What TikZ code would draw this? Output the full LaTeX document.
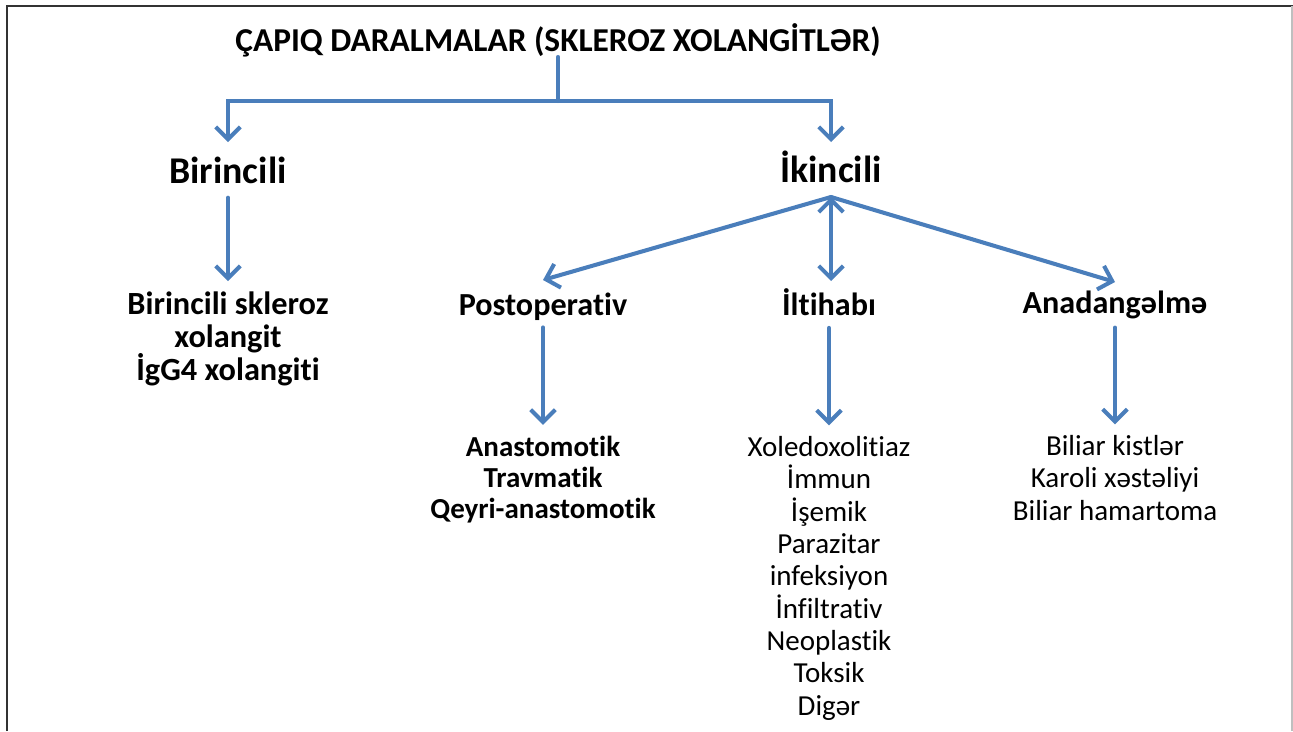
\documentclass[tikz,border=0pt]{standalone}
\usepackage{fontspec}
\setmainfont{Carlito}[Ligatures=NoCommon]
\usetikzlibrary{arrows.meta}
\definecolor{linkblue}{RGB}{74,126,187}

\begin{document}
\begin{tikzpicture}[x=0.02cm, y=-0.02cm,
  every node/.style={inner sep=0pt, anchor=base},
  title/.style={font=\bfseries\fontsize{19}{22}\selectfont},
  head/.style={font=\bfseries\fontsize{21.5}{24}\selectfont},
  sub/.style={font=\bfseries\fontsize{18.3}{20}\selectfont},
  items/.style={align=center, font=\fontsize{16.5}{18.4}\selectfont},
  link/.style={draw=linkblue, line width=2.3pt, line cap=round},
  arrow/.style={link, -{Straight Barb[length=7pt, width=14pt]}}]
   \useasboundingbox (0,0) rectangle (1293,731);
   % frame
   \draw[line width=1.2pt, black!80] (7,731) -- (7,6) -- (1293,6);
   \draw[line width=0.6pt, black!25] (1292,6) -- (1292,731);

   \node[title] (title) at (558,51) {ÇAPIQ DARALMALAR (SKLEROZ XOLANGİTLƏR)};
   \node[head] (prim) at (228,183) {Birincili};
   \node[head] (sec) at (831,182) {İkincili};
   % lists: base = last line
   \node[items, font=\bfseries\fontsize{18.4}{18.6}\selectfont] (prim_l) at (228,380) {Birincili skleroz\\xolangit\\İgG4 xolangiti};
   \node[sub] (post) at (543,315) {Postoperativ};
   \node[sub] (infl) at (829,315) {İltihabı};
   \node[sub] (cong) at (1115,313) {Anadangəlmə};
   \node[items, font=\bfseries\fontsize{16.5}{17.6}\selectfont] (post_l) at (543,518) {Anastomotik\\Travmatik\\Qeyri-anastomotik};
   \node[items] (infl_l) at (829,715) {Xoledoxolitiaz\\İmmun\\İşemik\\Parazitar\\infeksiyon\\İnfiltrativ\\Neoplastik\\Toksik\\Digər};
   \node[items] (cong_l) at (1115,520) {Biliar kistlər\\Karoli xəstəliyi\\Biliar hamartoma};

   \coordinate (split) at (558,101);
   \coordinate (prim_in) at (228,142);
   \coordinate (sec_in) at (831,142);
   \coordinate (sec_j) at (831,197);
   \coordinate (post_in) at (543,280);
   \coordinate (infl_in) at (831,281);
   \coordinate (cong_in) at (1115,282);

   \draw[link] (title.south) -- (split);
   \draw[arrow] (split) -| (prim_in);
   \draw[arrow] (split) -| (sec_in);
   \path[arrow]
    (sec_j) edge (post_in)
            edge (infl_in)
            edge (cong_in);
   \draw[arrow, shorten <=8pt, shorten >=6pt] (prim.south) -- (prim_l.north);
   \draw[arrow, shorten <=4pt, shorten >=6pt] (post.south) -- (post_l.north);
   \draw[arrow, shorten <=7pt, shorten >=6pt] (infl.south) -- (infl_l.north);
   \draw[arrow, shorten <=5pt, shorten >=6pt] (cong.south) -- (cong_l.north);
\end{tikzpicture}
\end{document}
